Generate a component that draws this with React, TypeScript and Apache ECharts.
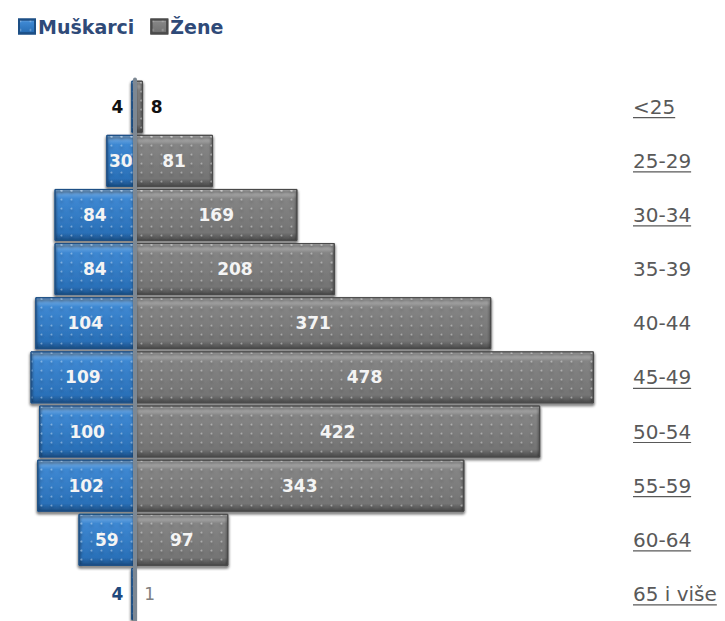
import React, { useEffect, useRef } from "react";
import * as echarts from "echarts";

const categories = ["<25", "25-29", "30-34", "35-39", "40-44", "45-49", "50-54", "55-59", "60-64", "65 i više"];
const men = [4, 30, 84, 84, 104, 109, 100, 102, 59, 4];
const women = [8, 81, 169, 208, 371, 478, 422, 343, 97, 1];
const underlined = ["<25", "25-29", "30-34", "45-49", "50-54", "55-59", "60-64", "65 i više"];

const CAT_FONT_SIZE = 20;
const CAT_FONT_FAMILY = "DejaVu Sans";
const AXIS_MIN = -120;
const AXIS_MAX = 500;

function measure(text: string): number {
  const c = document.createElement("canvas").getContext("2d");
  if (!c) return text.length * 11;
  c.font = CAT_FONT_SIZE + "px '" + CAT_FONT_FAMILY + "'";
  return c.measureText(text).width;
}

export default function App() {
  const ref = useRef<HTMLDivElement>(null);
  useEffect(() => {
    if (!ref.current) return;
    const chart = echarts.init(ref.current, undefined, { renderer: "svg" });
    const dots = {
      symbol: "circle",
      symbolSize: 0.6,
      dashArrayX: [3, 7],
      dashArrayY: [3, 6],
      color: "rgba(255,255,255,0.35)",
    };
    const blueFill = new echarts.graphic.LinearGradient(0, 0, 0, 1, [
      { offset: 0, color: "#86b8ea" },
      { offset: 0.18, color: "#3e88d2" },
      { offset: 0.85, color: "#2a70b8" },
      { offset: 1, color: "#1b4f86" },
    ]);
    const greyFill = new echarts.graphic.LinearGradient(0, 0, 0, 1, [
      { offset: 0, color: "#c4c4c4" },
      { offset: 0.18, color: "#858585" },
      { offset: 0.85, color: "#747474" },
      { offset: 1, color: "#4a4a4a" },
    ]);
    const menData = men.map((v, i) => {
      const item: any = { value: -v };
      if (i === 0) item.label = { position: "left", distance: 8, color: "#111111" };
      if (i === categories.length - 1) item.label = { position: "left", distance: 8, color: "#1f497d" };
      return item;
    });
    const womenData = women.map((v, i) => {
      const item: any = { value: v };
      if (i === 0) item.label = { position: "right", distance: 8, color: "#111111" };
      if (i === categories.length - 1)
        item.label = { position: "right", distance: 8, color: "#808080", fontWeight: "normal" };
      return item;
    });
    const valueLabel = {
      show: true,
      position: "inside",
      color: "#f4f4f4",
      fontWeight: "bold",
      fontSize: 17,
      fontFamily: "DejaVu Sans",
    };
    chart.setOption({
      animation: false,
      legend: {
        left: 13,
        top: 12,
        itemWidth: 16,
        itemHeight: 14,
        itemGap: 16,
        icon: "rect",
        textStyle: { color: "#2f4a78", fontWeight: "bold", fontSize: 19, fontFamily: "DejaVu Sans", padding: [0, 0, 0, -2] },
        data: [
          { name: "Muškarci", itemStyle: { color: blueFill } },
          { name: "Žene", itemStyle: { color: greyFill } },
        ],
      },
      grid: { left: 20, right: 110, top: 79.6, bottom: -6.4, containLabel: false },
      xAxis: {
        type: "value",
        min: AXIS_MIN,
        max: AXIS_MAX,
        show: false,
      },
      yAxis: [
        {
          type: "category",
          data: categories,
          inverse: true,
          z: 10,
          axisLine: { show: true, onZero: true, lineStyle: { color: "#7d8893", width: 4 } },
          axisTick: { show: false },
          axisLabel: { show: false },
          splitLine: { show: false },
        },
        {
          type: "category",
          data: categories,
          inverse: true,
          position: "right",
          axisLine: { show: false },
          axisTick: { show: false },
          splitLine: { show: false },
          axisLabel: {
            show: true,
            margin: 18,
            align: "left",
            color: "#595959",
            fontSize: CAT_FONT_SIZE,
            fontFamily: CAT_FONT_FAMILY,
          },
        },
      ],
      series: [
        {
          name: "Muškarci",
          type: "bar",
          barGap: "-100%",
          barCategoryGap: "4%",
          data: menData,
          itemStyle: {
            color: blueFill,
            borderColor: "#1d4f85",
            borderWidth: 1,
            shadowBlur: 3,
            shadowColor: "rgba(0,0,0,0.35)",
            shadowOffsetY: 2,
            decal: dots,
          },
          label: { ...valueLabel, formatter: (p: any) => String(Math.abs(p.value)) },
        },
        {
          name: "Žene",
          type: "bar",
          barGap: "-100%",
          barCategoryGap: "4%",
          data: womenData,
          itemStyle: {
            color: greyFill,
            borderColor: "#4a4a4a",
            borderWidth: 1,
            shadowBlur: 3,
            shadowColor: "rgba(0,0,0,0.35)",
            shadowOffsetY: 2,
            decal: dots,
          },
          label: valueLabel,
        },
        {
          type: "custom",
          silent: true,
          data: categories.map((c, i) => [AXIS_MAX, i]),
          renderItem: (params: any, api: any) => {
            const idx = api.value(1);
            const name = categories[idx];
            if (underlined.indexOf(name) < 0) return null;
            const pt = api.coord([AXIS_MAX, idx]);
            const x0 = pt[0] + 18;
            const w = measure(name);
            return {
              type: "line",
              shape: { x1: x0, y1: pt[1] + 11, x2: x0 + w, y2: pt[1] + 11 },
              style: { stroke: "#595959", lineWidth: 1.2 },
            };
          },
        },
      ],
    });
    return () => chart.dispose();
  }, []);
  return (
    <div
      ref={ref}
      style={{ position: "fixed", left: 0, top: 0, width: 725, height: 621, background: "#ffffff" }}
    />
  );
}
